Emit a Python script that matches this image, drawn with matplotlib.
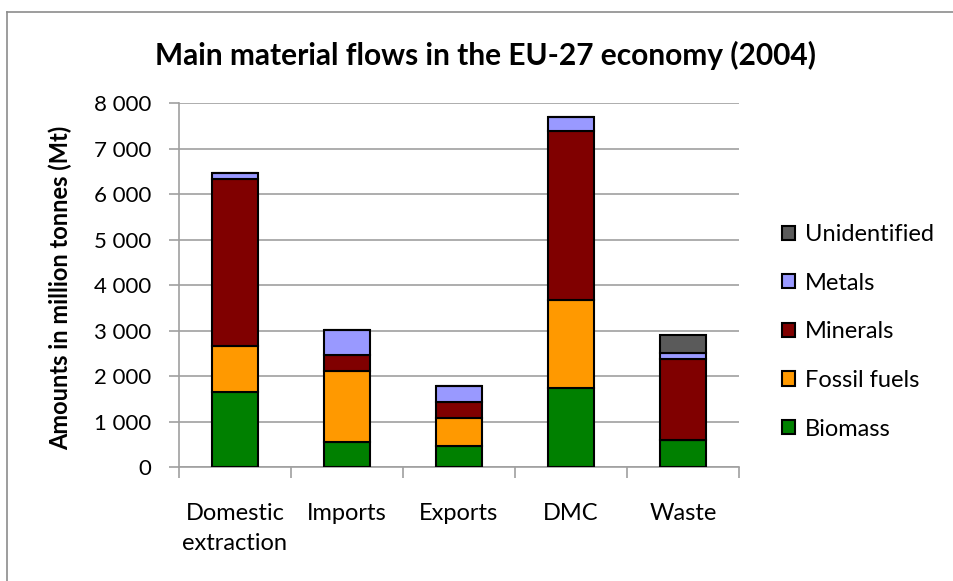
import numpy as np
import matplotlib
matplotlib.use("Agg")
import matplotlib.pyplot as plt
from matplotlib.lines import Line2D
from matplotlib.ticker import FuncFormatter

plt.rcParams['font.family'] = ['Lato', 'DejaVu Sans']

categories = ["Domestic\nextraction", "Imports", "Exports", "DMC", "Waste"]
biomass = [1650, 550, 460, 1740, 600]
fossil_fuels = [1000, 1560, 610, 1920, 0]
minerals = [3690, 360, 350, 3720, 1780]
metals = [130, 540, 360, 310, 120]
unidentified = [0, 0, 0, 0, 410]

series = [
    ("Biomass", biomass, "#008000"),
    ("Fossil fuels", fossil_fuels, "#ff9900"),
    ("Minerals", minerals, "#800000"),
    ("Metals", metals, "#9999ff"),
    ("Unidentified", unidentified, "#5a5a5a"),
]

grid_col = "#a0a0a0"

fig = plt.figure(figsize=(9.54, 5.81), dpi=100)
ax = fig.add_axes([0.1876, 0.1962, 0.587, 0.6265])

x = np.arange(len(categories))
bottom = np.zeros(len(categories))
handles = []
for name, vals, col in series:
    vals = np.array(vals, dtype=float)
    bars = ax.bar(x, vals, width=0.41, bottom=bottom, color=col,
                  edgecolor="black", linewidth=1.5, label=name, zorder=3)
    handles.append(bars)
    bottom += vals

ax.set_xlim(-0.5, len(categories) - 0.5)
ax.set_ylim(0, 8000)
ax.set_yticks(np.arange(0, 8001, 1000))
ax.yaxis.set_major_formatter(FuncFormatter(lambda v, p: f"{int(v):,}".replace(",", " ")))
ax.grid(axis="y", color=grid_col, linewidth=1.2, zorder=0)

ax.set_xticks(x)
ax.set_xticklabels(categories, linespacing=1.5)
ax.set_xticks(np.arange(-0.5, len(categories), 1), minor=True)
ax.tick_params(axis="x", which="major", length=0, pad=26, labelsize=17)
ax.tick_params(axis="x", which="minor", length=8, width=1.2, color=grid_col)
ax.tick_params(axis="y", length=7, width=1.2, color=grid_col, pad=13, labelsize=16)

for side in ["top", "right"]:
    ax.spines[side].set_visible(False)
for side in ["left", "bottom"]:
    ax.spines[side].set_color(grid_col)
    ax.spines[side].set_linewidth(1.2)

fig.text(0.063, 0.505, "Amounts in million tonnes (Mt)", rotation=90,
         ha="center", va="center", fontsize=17, fontweight="bold")

fig.text(0.509, 0.905, "Main material flows in the EU-27 economy (2004)",
         ha="center", va="center", fontsize=21.5, fontweight="bold")

# legend, top entry first
fig.legend(handles[::-1], [s[0] for s in series][::-1], loc="center left",
           bbox_to_anchor=(0.82, 0.429), frameon=False, fontsize=17,
           borderpad=0, borderaxespad=0,
           handlelength=0.55, handleheight=0.55, handletextpad=0.4, labelspacing=1.17)

# chart-area frame
fig.add_artist(Line2D([0.007, 0.007], [0.0, 0.979], color="#8c8c8c", linewidth=1.2))
fig.add_artist(Line2D([0.007, 1.0], [0.979, 0.979], color="#8c8c8c", linewidth=1.2))

fig.savefig("out.png", dpi=100)
